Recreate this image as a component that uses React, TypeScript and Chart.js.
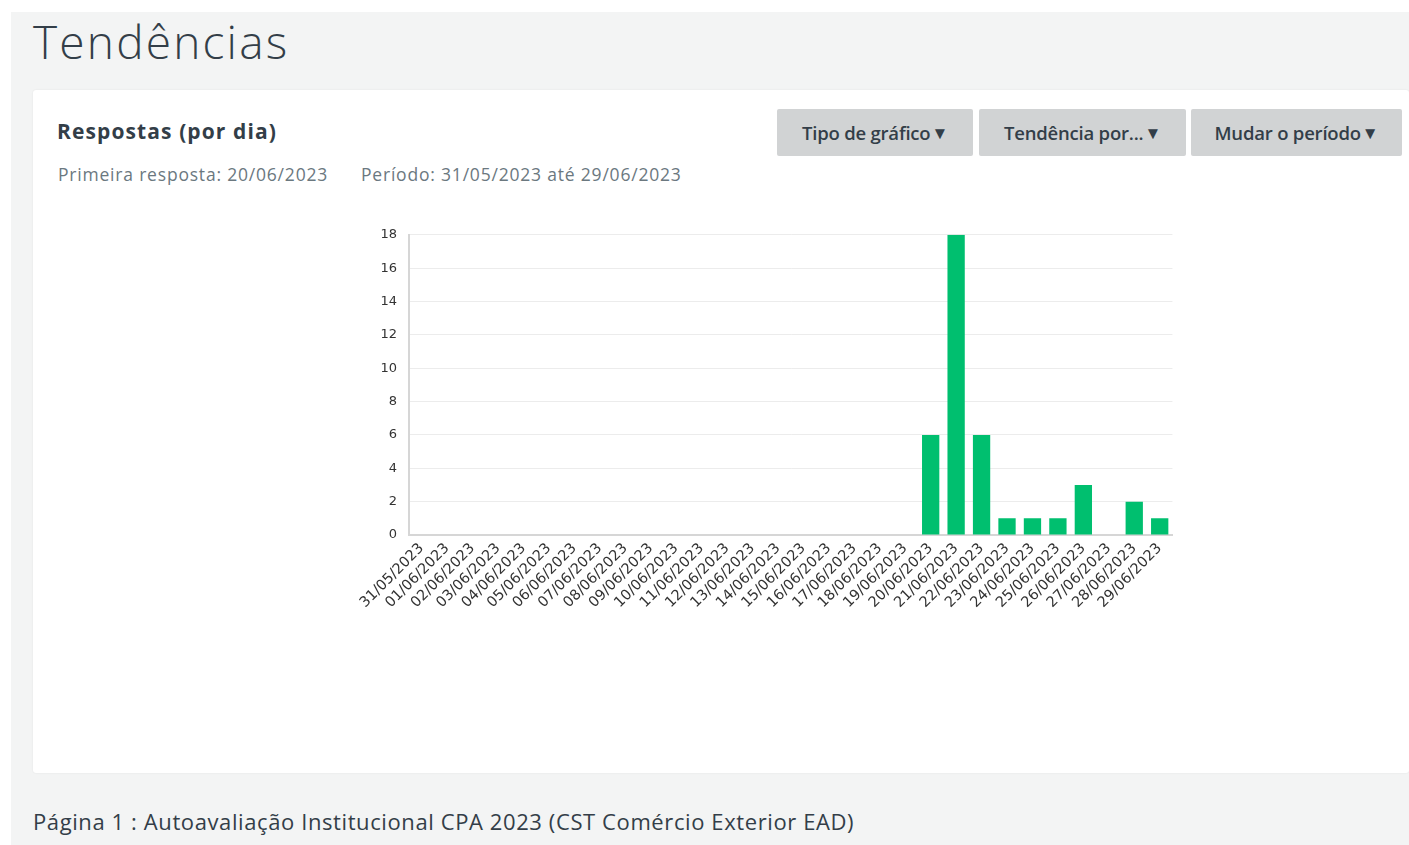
import React, { useEffect, useRef } from "react";
import { Chart, registerables } from "chart.js";

Chart.register(...registerables);

const categories: string[] = [
  "31/05/2023", "01/06/2023", "02/06/2023", "03/06/2023", "04/06/2023", "05/06/2023",
  "06/06/2023", "07/06/2023", "08/06/2023", "09/06/2023", "10/06/2023", "11/06/2023",
  "12/06/2023", "13/06/2023", "14/06/2023", "15/06/2023", "16/06/2023", "17/06/2023",
  "18/06/2023", "19/06/2023", "20/06/2023", "21/06/2023", "22/06/2023", "23/06/2023",
  "24/06/2023", "25/06/2023", "26/06/2023", "27/06/2023", "28/06/2023", "29/06/2023",
];

const responses: number[] = [
  0, 0, 0, 0, 0, 0, 0, 0, 0, 0, 0, 0, 0, 0, 0, 0, 0, 0, 0, 0,
  6, 18, 6, 1, 1, 1, 3, 0, 2, 1,
];

const yTicks: number[] = [0, 2, 4, 6, 8, 10, 12, 14, 16, 18];

const buttons: string[] = ["Tipo de gráfico", "Tendência por...", "Mudar o período"];

const BAR_COLOR = "#00bf6f";
const TEXT_DARK = "#333e48";
const TEXT_MUTED = "#6b787f";
const SANS = "'Open Sans', 'Noto Sans', sans-serif";
const CHART_FONT = "'DejaVu Sans', Verdana, sans-serif";

function TrendChart() {
  const ref = useRef<HTMLCanvasElement | null>(null);
  useEffect(() => {
    if (!ref.current) return;
    const chart = new Chart(ref.current, {
      type: "bar",
      data: {
        labels: categories,
        datasets: [
          {
            label: "Respostas",
            data: responses,
            backgroundColor: BAR_COLOR,
            borderWidth: 0,
            barPercentage: 0.85,
            categoryPercentage: 0.8,
          },
        ],
      },
      options: {
        animation: false,
        responsive: true,
        maintainAspectRatio: false,
        layout: { padding: { top: 6, right: 0, left: 0, bottom: 0 } },
        plugins: {
          legend: { display: false },
          tooltip: { enabled: false },
        },
        scales: {
          x: {
            grid: { display: false, drawTicks: false },
            border: { display: true, color: "#d6d6d6", width: 2 },
            ticks: {
              autoSkip: false,
              maxRotation: 45,
              minRotation: 45,
              padding: 5,
              color: "#333333",
              font: { family: CHART_FONT, size: 14.5 },
            },
            afterFit: (s: any) => {
              s.height = 87;
            },
          },
          y: {
            min: 0,
            max: 18,
            afterBuildTicks: (s: any) => {
              s.ticks = yTicks.map((v) => ({ value: v }));
            },
            grid: { color: "#ececec", lineWidth: 1, drawTicks: false },
            border: { display: true, color: "#d6d6d6", width: 2 },
            ticks: {
              padding: 12,
              color: "#333333",
              font: { family: CHART_FONT, size: 13 },
            },
            afterFit: (s: any) => {
              s.width = 69;
            },
          },
        },
      },
    });
    return () => chart.destroy();
  }, []);
  return (
    <div style={{ position: "absolute", left: 340, top: 215, width: 837, height: 407 }}>
      <canvas ref={ref} />
    </div>
  );
}

export default function App() {
  return (
    <div
      style={{
        position: "absolute",
        left: 0,
        top: 0,
        width: 1409,
        height: 845,
        background: "#ffffff",
        overflow: "hidden",
        fontFamily: SANS,
      }}
    >
      <div
        style={{
          position: "absolute",
          left: 11,
          top: 12,
          width: 1398,
          height: 833,
          background: "#f3f4f4",
        }}
      />
      <div
        style={{
          position: "absolute",
          left: 33,
          top: 11,
          fontSize: 46,
          fontWeight: 300,
          color: TEXT_DARK,
          lineHeight: "60px",
          letterSpacing: 2.2,
          whiteSpace: "nowrap",
        }}
      >
        Tendências
      </div>
      <div
        style={{
          position: "absolute",
          left: 33,
          top: 90,
          width: 1376,
          height: 683,
          background: "#ffffff",
          borderRadius: 3,
          boxShadow: "0 0 2px rgba(0,0,0,0.08)",
        }}
      />
      <div
        style={{
          position: "absolute",
          left: 57,
          top: 116,
          fontSize: 21,
          fontWeight: 700,
          color: TEXT_DARK,
          lineHeight: "30px",
          letterSpacing: 1.1,
          whiteSpace: "nowrap",
        }}
      >
        Respostas (por dia)
      </div>
      <div
        style={{
          position: "absolute",
          left: 58,
          top: 162,
          fontSize: 17.5,
          color: TEXT_MUTED,
          lineHeight: "24px",
          letterSpacing: 0.8,
          whiteSpace: "nowrap",
        }}
      >
        Primeira resposta: 20/06/2023
      </div>
      <div
        style={{
          position: "absolute",
          left: 361,
          top: 162,
          fontSize: 17.5,
          color: TEXT_MUTED,
          lineHeight: "24px",
          letterSpacing: 0.8,
          whiteSpace: "nowrap",
        }}
      >
        Período: 31/05/2023 até 29/06/2023
      </div>
      {buttons.map((b, i) => {
        const lefts = [777, 979, 1191];
        const widths = [196, 207, 211];
        return (
          <div
            key={b}
            style={{
              position: "absolute",
              left: lefts[i],
              top: 109,
              width: widths[i],
              height: 47,
              background: "#d1d3d4",
              borderRadius: 2,
              display: "flex",
              alignItems: "center",
              justifyContent: "center",
              fontSize: 18.5,
              fontWeight: 600,
              color: TEXT_DARK,
              letterSpacing: -0.2,
              whiteSpace: "nowrap",
            }}
          >
            {b}
            <span style={{ fontSize: 17, marginLeft: 1 }}>▼</span>
          </div>
        );
      })}
      <TrendChart />
      <div
        style={{
          position: "absolute",
          left: 33,
          top: 805,
          fontSize: 22,
          color: TEXT_DARK,
          lineHeight: "32px",
          whiteSpace: "nowrap",
          letterSpacing: 0.6,
        }}
      >
        Página 1 : Autoavaliação Institucional CPA 2023 (CST Comércio Exterior EAD)
      </div>
    </div>
  );
}
